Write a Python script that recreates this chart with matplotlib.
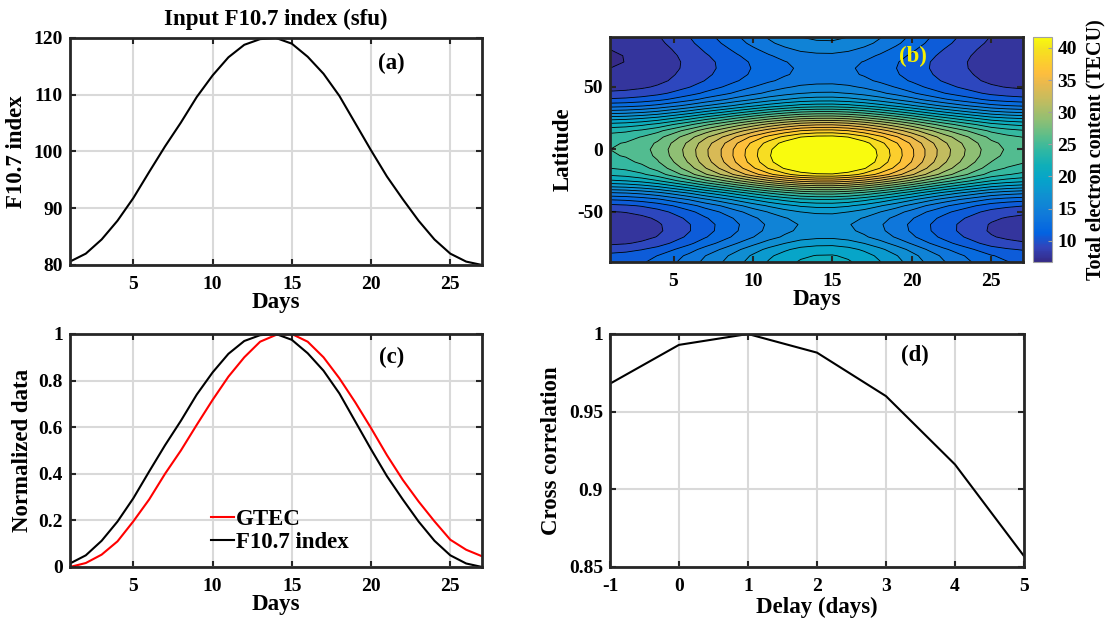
import numpy as np
import matplotlib
matplotlib.use('Agg')
import matplotlib.pyplot as plt
from matplotlib.colors import LinearSegmentedColormap, Normalize
from matplotlib.cm import ScalarMappable
from matplotlib.ticker import FuncFormatter

plt.rcParams['font.family'] = 'Liberation Serif'
plt.rcParams['font.weight'] = 'bold'
plt.rcParams['axes.labelweight'] = 'bold'
plt.rcParams['axes.unicode_minus'] = False

# ---- data ----
days = np.arange(1, 28)
f107 = [80.6, 82.0, 84.5, 87.8, 91.8, 96.4, 100.9, 105.1, 109.6, 113.4,
        116.6, 118.8, 119.8, 120.0, 119.0, 116.7, 113.7, 109.8, 105.0, 100.2,
        95.6, 91.6, 87.8, 84.5, 82.0, 80.6, 80.0]
gtec_norm = [0.0, 0.017, 0.053, 0.11, 0.196, 0.29, 0.40, 0.50, 0.61, 0.717,
             0.817, 0.90, 0.967, 0.996, 1.0, 0.967, 0.90, 0.81, 0.707, 0.596,
             0.48, 0.374, 0.281, 0.196, 0.117, 0.074, 0.046]

lags = [-1, 0, 1, 2, 3, 4, 5]
xcorr = [0.968, 0.993, 1.0, 0.988, 0.960, 0.916, 0.857]

# latitude profiles of TEC (TECU) at the quiet start and at the peak
lat = np.arange(-90, 91, 5)
tec_quiet = [10.8, 10.4, 9.4, 8.2, 7.5, 7.2, 7.3, 7.7, 8.4, 9.6,
             11.6, 14.2, 17.4, 20.3, 22.3, 23.5, 24.3, 24.8, 25.0, 24.8,
             24.2, 23.0, 21.0, 18.3, 15.2, 12.4, 10.2, 8.8, 7.9, 7.4,
             7.2, 7.0, 6.9, 6.9, 7.0, 7.2, 7.4]
tec_peak = [21.0, 20.6, 19.8, 18.5, 17.2, 16.6, 16.4, 16.8, 17.8, 19.5,
            22.0, 25.5, 30.0, 35.0, 39.8, 42.0, 43.0, 43.2, 43.0, 42.3,
            40.5, 37.5, 33.8, 29.5, 25.3, 21.3, 18.3, 16.2, 15.0, 14.0,
            13.5, 13.4, 13.6, 14.2, 15.0, 15.8, 16.3]

f107 = np.array(f107)
f107_norm = (f107 - f107.min()) / (f107.max() - f107.min())
tq = np.array(tec_quiet)
tp = np.array(tec_peak)
# map follows the daily GTEC swing between the two profiles
tec = tq[:, None] + (tp - tq)[:, None] * np.array(gtec_norm)[None, :]

# parula-like colormap
parula = LinearSegmentedColormap.from_list('parula', [
    (0 / 63, (0.2081, 0.1663, 0.5292)),
    (4 / 63, (0.1959, 0.2645, 0.7279)),
    (8 / 63, (0.0117, 0.3875, 0.8820)),
    (13 / 63, (0.0629, 0.4737, 0.8554)),
    (18 / 63, (0.0641, 0.5570, 0.8240)),
    (23 / 63, (0.0231, 0.6418, 0.7913)),
    (27 / 63, (0.0590, 0.6838, 0.7254)),
    (31 / 63, (0.1801, 0.7177, 0.6424)),
    (35 / 63, (0.3482, 0.7424, 0.5473)),
    (40 / 63, (0.5709, 0.7485, 0.4494)),
    (45 / 63, (0.7525, 0.7384, 0.3768)),
    (50 / 63, (0.9139, 0.7258, 0.3063)),
    (53 / 63, (0.9938, 0.7455, 0.2403)),
    (56 / 63, (0.9880, 0.8066, 0.1794)),
    (60 / 63, (0.9589, 0.8949, 0.1132)),
    (63 / 63, (0.9763, 0.9831, 0.0538))])

TICK = 14
LAB = 16.5
frame = '#262626'


def style(ax, grid=True):
    for s in ax.spines.values():
        s.set_linewidth(2)
        s.set_color(frame)
    ax.tick_params(direction='in', top=True, right=True, length=4, width=1.5,
                   labelsize=TICK, color=frame)
    ax.tick_params(axis='x', pad=8)
    ax.tick_params(axis='y', pad=5)
    if grid:
        ax.grid(True, color='#d9d9d9', lw=1.5)
        ax.set_axisbelow(True)


gfmt = FuncFormatter(lambda v, p: '%g' % v)

fig = plt.figure(figsize=(11.05, 6.29), dpi=100)
ax_a = fig.add_axes([0.0633, 0.5787, 0.3729, 0.3609])
ax_c = fig.add_axes([0.0633, 0.0986, 0.3729, 0.3704])
ax_b = fig.add_axes([0.552, 0.5835, 0.3738, 0.3577])
cax = fig.add_axes([0.9348, 0.5835, 0.0172, 0.3577])
ax_d = fig.add_axes([0.552, 0.0986, 0.3747, 0.3704])

# (a)
ax_a.plot(days, f107, color='k', lw=1.5)
ax_a.set_xlim(1, 27)
ax_a.set_ylim(80, 120)
ax_a.set_xticks([5, 10, 15, 20, 25])
ax_a.set_yticks([80, 90, 100, 110, 120])
ax_a.set_xlabel('Days', fontsize=LAB, labelpad=-1)
ax_a.set_ylabel('F10.7 index', fontsize=LAB, labelpad=5)
ax_a.set_title('Input F10.7 index (sfu)', fontsize=LAB, fontweight='bold', pad=9)
ax_a.text(0.78, 0.89, '(a)', transform=ax_a.transAxes, ha='center', va='center',
          fontsize=LAB)
style(ax_a)

# (b)
norm = Normalize(6.7, 41.7)
levels = np.arange(7, 40.1, 1.5)
ax_b.contourf(days, lat, tec, levels=levels, cmap=parula, norm=norm, extend='both')
ax_b.contour(days, lat, tec, levels=levels, colors='k', linewidths=0.6)
ax_b.set_xlim(1, 27)
ax_b.set_ylim(-90, 90)
ax_b.set_xticks([5, 10, 15, 20, 25])
ax_b.set_yticks([-50, 0, 50])
ax_b.set_xlabel('Days', fontsize=LAB, labelpad=-1)
ax_b.set_ylabel('Latitude', fontsize=LAB, labelpad=2)
ax_b.text(0.734, 0.915, '(b)', transform=ax_b.transAxes, ha='center', va='center',
          fontsize=LAB, color='#f5f000')
style(ax_b, grid=False)

cb = fig.colorbar(ScalarMappable(norm=norm, cmap=parula), cax=cax)
cb.set_ticks([10, 15, 20, 25, 30, 35, 40])
cb.outline.set_edgecolor('#a0a0a0')
cb.outline.set_linewidth(0.8)
cax.tick_params(labelsize=TICK, direction='in', length=3, color='#a0a0a0', pad=4)
cb.set_label('Total electron content (TECU)', fontsize=14.5, fontweight='bold',
             labelpad=6)

# (c)
ax_c.plot(days, gtec_norm, color='#ff0000', lw=1.5, label='GTEC')
ax_c.plot(days, f107_norm, color='k', lw=1.5, label='F10.7 index')
ax_c.set_xlim(1, 27)
ax_c.set_ylim(0, 1)
ax_c.set_xticks([5, 10, 15, 20, 25])
ax_c.set_yticks([0, 0.2, 0.4, 0.6, 0.8, 1])
ax_c.yaxis.set_major_formatter(gfmt)
ax_c.set_xlabel('Days', fontsize=LAB, labelpad=-1)
ax_c.set_ylabel('Normalized data', fontsize=LAB, labelpad=4)
ax_c.text(0.78, 0.90, '(c)', transform=ax_c.transAxes, ha='center', va='center',
          fontsize=LAB)
ax_c.legend(loc='lower left', bbox_to_anchor=(0.32, 0.02), frameon=False,
            fontsize=LAB, handlelength=1.0, handletextpad=0.1,
            labelspacing=0.1, borderaxespad=0)
style(ax_c)

# (d)
ax_d.plot(lags, xcorr, color='k', lw=1.5)
ax_d.set_xlim(-1, 5)
ax_d.set_ylim(0.85, 1)
ax_d.set_xticks(lags)
ax_d.set_yticks([0.85, 0.9, 0.95, 1])
ax_d.yaxis.set_major_formatter(gfmt)
ax_d.set_xlabel('Delay (days)', fontsize=LAB, labelpad=1)
ax_d.set_ylabel('Cross correlation', fontsize=LAB, labelpad=5)
ax_d.text(0.737, 0.91, '(d)', transform=ax_d.transAxes, ha='center', va='center',
          fontsize=LAB)
style(ax_d)

fig.savefig('out.png', dpi=100)
